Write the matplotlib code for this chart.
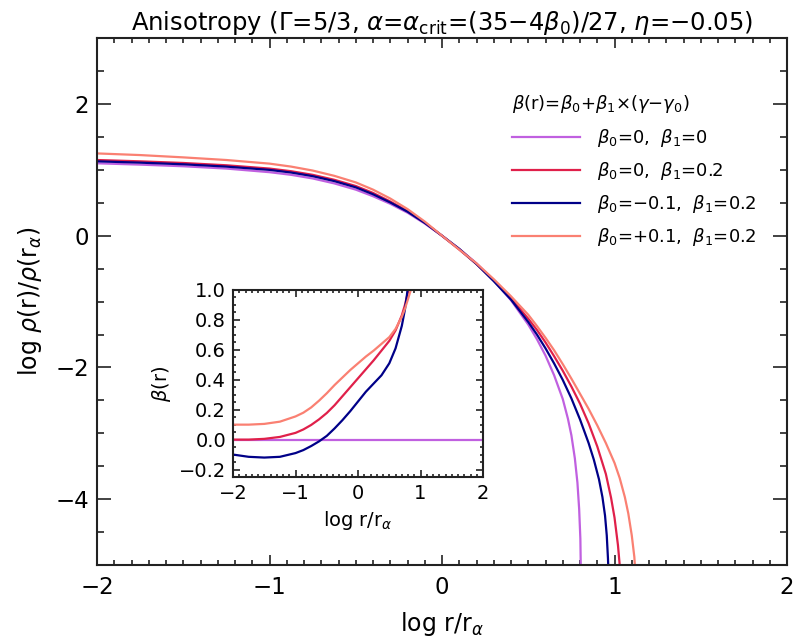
"""
Perfiles de densidad con anisotropía de velocidades.

Panel principal: log rho(r)/rho(r_alpha) frente a log r/r_alpha.
Panel interior: el parámetro de anisotropía beta(r).
"""

import matplotlib.pyplot as plt
from matplotlib.ticker import MultipleLocator

plt.rcParams['font.family'] = ['DejaVu Sans']
plt.rcParams['mathtext.fontset'] = 'dejavusans'

# --- perfiles de densidad (log r, log rho) ---
x_b0 = [-2.0, -1.75, -1.5, -1.25, -1.0, -0.875, -0.75, -0.625, -0.5, -0.4, -0.3, -0.2, -0.1, 0.0,
        0.1, 0.2, 0.3, 0.4, 0.5, 0.55, 0.6, 0.65, 0.7, 0.73, 0.75, 0.77, 0.785, 0.795, 0.802, 0.806]
y_b0 = [1.10, 1.08, 1.055, 1.02, 0.965, 0.925, 0.87, 0.795, 0.70, 0.60, 0.485, 0.35, 0.185, 0.0,
        -0.20, -0.42, -0.68, -0.98, -1.35, -1.57, -1.82, -2.12, -2.48, -2.78, -3.03, -3.38, -3.75,
        -4.15, -4.6, -5.3]

x_b1 = [-2.0, -1.75, -1.5, -1.25, -1.0, -0.875, -0.75, -0.625, -0.5, -0.4, -0.3, -0.2, -0.1, 0.0,
        0.1, 0.2, 0.3, 0.4, 0.5, 0.55, 0.6, 0.65, 0.7, 0.75, 0.8, 0.85, 0.9, 0.95, 0.98, 1.0,
        1.02, 1.03, 1.036]
y_b1 = [1.15, 1.13, 1.105, 1.07, 1.02, 0.98, 0.925, 0.85, 0.755, 0.65, 0.52, 0.375, 0.20, 0.0,
        -0.21, -0.43, -0.68, -0.95, -1.26, -1.43, -1.62, -1.83, -2.05, -2.29, -2.55, -2.85, -3.20,
        -3.62, -3.98, -4.28, -4.70, -5.0, -5.3]

x_bm = [-2.0, -1.75, -1.5, -1.25, -1.0, -0.875, -0.75, -0.625, -0.5, -0.4, -0.3, -0.2, -0.1, 0.0,
        0.1, 0.2, 0.3, 0.4, 0.5, 0.55, 0.6, 0.65, 0.7, 0.75, 0.8, 0.85, 0.88, 0.91, 0.93, 0.945,
        0.955, 0.962, 0.968]
y_bm = [1.13, 1.11, 1.085, 1.05, 1.0, 0.96, 0.905, 0.83, 0.735, 0.63, 0.505, 0.365, 0.195, 0.0,
        -0.20, -0.43, -0.69, -0.97, -1.31, -1.50, -1.71, -1.94, -2.19, -2.47, -2.79, -3.15, -3.40,
        -3.70, -3.97, -4.25, -4.55, -4.90, -5.3]

x_bp = [-2.0, -1.75, -1.5, -1.25, -1.0, -0.875, -0.75, -0.625, -0.5, -0.4, -0.3, -0.2, -0.1, 0.0,
        0.1, 0.2, 0.3, 0.4, 0.5, 0.55, 0.6, 0.65, 0.7, 0.75, 0.8, 0.85, 0.9, 0.95, 1.0, 1.03,
        1.06, 1.08, 1.1, 1.115, 1.125]
y_bp = [1.25, 1.225, 1.19, 1.15, 1.095, 1.05, 0.99, 0.91, 0.81, 0.70, 0.565, 0.405, 0.215, 0.0,
        -0.21, -0.42, -0.66, -0.92, -1.20, -1.37, -1.55, -1.74, -1.95, -2.17, -2.40, -2.63, -2.88,
        -3.15, -3.45, -3.68, -3.97, -4.22, -4.55, -4.88, -5.3]

# --- beta(r) para el panel interior ---
xi_b0 = [-2.0, 2.0]
bi_b0 = [0.0, 0.0]

xi_b1 = [-2.0, -1.75, -1.5, -1.25, -1.0, -0.875, -0.75, -0.625, -0.5, -0.375, -0.25, -0.125,
         0.0, 0.125, 0.25, 0.375, 0.5, 0.6, 0.7, 0.75, 0.8, 0.83]
bi_b1 = [0.0, 0.0, 0.005, 0.018, 0.045, 0.068, 0.098, 0.135, 0.178, 0.23, 0.29, 0.35,
         0.41, 0.47, 0.53, 0.595, 0.66, 0.73, 0.83, 0.90, 0.99, 1.05]

xi_bm = [-2.0, -1.75, -1.5, -1.25, -1.0, -0.875, -0.75, -0.625, -0.5, -0.375, -0.25, -0.125,
         0.0, 0.125, 0.25, 0.375, 0.5, 0.6, 0.7, 0.75, 0.78, 0.80]
bi_bm = [-0.10, -0.115, -0.12, -0.115, -0.09, -0.07, -0.043, -0.012, 0.025, 0.075, 0.13, 0.19,
         0.255, 0.32, 0.375, 0.43, 0.51, 0.61, 0.76, 0.87, 0.96, 1.03]

xi_bp = [-2.0, -1.75, -1.5, -1.25, -1.0, -0.875, -0.75, -0.625, -0.5, -0.375, -0.25, -0.125,
         0.0, 0.125, 0.25, 0.375, 0.5, 0.6, 0.7, 0.75, 0.8, 0.85, 0.87]
bi_bp = [0.10, 0.10, 0.105, 0.12, 0.155, 0.18, 0.215, 0.26, 0.31, 0.365, 0.415, 0.465,
         0.51, 0.555, 0.595, 0.64, 0.685, 0.74, 0.82, 0.875, 0.94, 1.01, 1.04]

colores = ['#c060e0', '#e0204a', '#000088', '#fa8072']
etiquetas = [r'$\beta_0$=0,  $\beta_1$=0',
             r'$\beta_0$=0,  $\beta_1$=0.2',
             r'$\beta_0$=$-$0.1,  $\beta_1$=0.2',
             r'$\beta_0$=+0.1,  $\beta_1$=0.2']


def estilo_ejes(ax, xmaj, xmin, ymaj, ymin, largo_x, largo_y, tam):
    """Ticks hacia dentro en los cuatro lados."""
    ax.xaxis.set_major_locator(MultipleLocator(xmaj))
    ax.xaxis.set_minor_locator(MultipleLocator(xmin))
    ax.yaxis.set_major_locator(MultipleLocator(ymaj))
    ax.yaxis.set_minor_locator(MultipleLocator(ymin))
    ax.tick_params(which='both', direction='in', top=True, right=True,
                   labelsize=tam, width=1.2, colors='#222222', labelcolor='black')
    ax.tick_params(axis='x', which='major', length=largo_x, pad=8)
    ax.tick_params(axis='x', which='minor', length=largo_x * 0.5)
    ax.tick_params(axis='y', which='major', length=largo_y, pad=6)
    ax.tick_params(axis='y', which='minor', length=largo_y * 0.5)
    for s in ax.spines.values():
        s.set_linewidth(1.5)
        s.set_color('#222222')


fig = plt.figure(figsize=(7.94, 6.44), dpi=100)
ax = fig.add_axes([0.1222, 0.1227, 0.869, 0.818])

curvas = [(x_b0, y_b0), (x_b1, y_b1), (x_bm, y_bm), (x_bp, y_bp)]
for (xs, ys), c, lab in zip(curvas, colores, etiquetas):
    ax.plot(xs, ys, color=c, lw=1.6, label=lab)

ax.set_xlim(-2, 2)
ax.set_ylim(-5, 3)
estilo_ejes(ax, 1, 0.1, 2, 0.5, 7, 10, 16.5)
ax.set_xlabel(r'log r/r$_\alpha$', fontsize=17, labelpad=8)
ax.set_ylabel(r'log $\rho$(r)/$\rho$(r$_\alpha$)', fontsize=17, labelpad=8)
ax.set_title(r'Anisotropy ($\Gamma$=5/3, $\alpha$=$\alpha_{\rm crit}$=(35$-$4$\beta_0$)/27, $\eta$=$-$0.05)',
             fontsize=17.5, pad=6)

leg = ax.legend(loc='upper left', bbox_to_anchor=(0.601, 0.896), frameon=False,
                fontsize=13, handlelength=3.8, handletextpad=0.95, labelspacing=0.6,
                borderpad=0, borderaxespad=0,
                title=r'$\beta$(r)=$\beta_0$+$\beta_1$$\times$($\gamma$$-$$\gamma_0$)',
                title_fontsize=13, alignment='left')
leg._legend_box.sep = 9

# panel interior con beta(r)
axi = fig.add_axes([0.2935, 0.2593, 0.3149, 0.2904])
interior = [(xi_b0, bi_b0), (xi_b1, bi_b1), (xi_bm, bi_bm), (xi_bp, bi_bp)]
for (xs, bs), c in zip(interior, colores):
    axi.plot(xs, bs, color=c, lw=1.6)
axi.set_xlim(-2, 2)
axi.set_ylim(-0.25, 1.0)
estilo_ejes(axi, 1, 0.1, 0.2, 0.05, 5, 5, 14)
axi.tick_params(axis='both', which='major', pad=5)
axi.yaxis.set_major_formatter(lambda v, p: f'{v:.1f}'.replace('-', '\u2212'))
axi.set_xlabel(r'log r/r$_\alpha$', fontsize=14, labelpad=4)
axi.set_ylabel(r'$\beta$(r)', fontsize=14, labelpad=4)

fig.savefig('out.png', dpi=100)
